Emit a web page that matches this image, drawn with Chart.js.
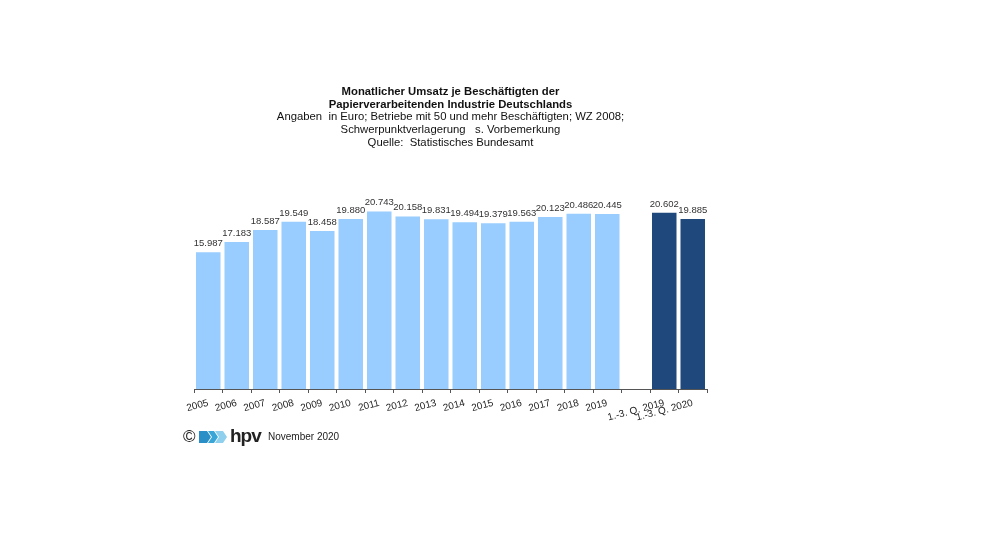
<!DOCTYPE html>
<html>
<head>
<meta charset="utf-8">
<script src="https://cdn.jsdelivr.net/npm/chart.js@4"></script>
<style>
  html, body { margin: 0; padding: 0; background: #fff; }
  #wrap { position: relative; width: 982px; height: 552px; }
  #footer { position: absolute; left: 183px; top: 427px; height: 20px; font-family: "Liberation Sans", Arial, sans-serif; color: #222; }
  #footer .copy { position: absolute; left: 0; top: 0; font-size: 17px; line-height: 20px; }
  #footer svg { position: absolute; left: 16px; top: 4px; }
  #footer .hpv { position: absolute; left: 47px; top: -1px; font-size: 19px; font-weight: bold; letter-spacing: -1px; line-height: 20px; }
  #footer .date { position: absolute; left: 85px; top: 4px; font-size: 10px; white-space: nowrap; line-height: 12px; }
</style>
</head>
<body>
<div id="wrap">
  <canvas id="umsatzChart" width="982" height="552"></canvas>
  <div id="footer">
    <span class="copy">©</span>
    <svg width="28" height="12" viewBox="0 0 28 12">
      <polygon points="0,0 8,0 12,6 8,12 0,12" fill="#2a8fc7"/>
      <polygon points="9,0 15,0 19,6 15,12 9,12 13,6" fill="#3aa6d8"/>
      <polygon points="16,0 24,0 28,6 24,12 16,12 20,6" fill="#8fd0ee"/>
    </svg>
    <span class="hpv">hpv</span>
    <span class="date">November 2020</span>
  </div>
</div>
<script>
// Werte (Euro je Beschäftigten und Monat)
const categories = ['2005', '2006', '2007', '2008', '2009', '2010', '2011', '2012', '2013', '2014',
                    '2015', '2016', '2017', '2018', '2019', '', '1.-3. Q. 2019', '1.-3. Q. 2020'];
const yearValues = [15987, 17183, 18587, 19549, 18458, 19880, 20743, 20158, 19831, 19494,
                    19379, 19563, 20123, 20486, 20445];
const quarterValues = [20602, 19885];

const titleLines = ['Monatlicher Umsatz je Beschäftigten der', 'Papierverarbeitenden Industrie Deutschlands'];
const subtitleLines = ['Angaben  in Euro; Betriebe mit 50 und mehr Beschäftigten; WZ 2008;',
                       'Schwerpunktverlagerung   s. Vorbemerkung',
                       'Quelle:  Statistisches Bundesamt'];

const lightBlue = '#99ccff';
const darkBlue = '#1f497d';

// eine Reihe: Jahre, Lücke, Quartale
const values = yearValues.concat([null], quarterValues);
const colors = values.map((v, i) => i > yearValues.length ? darkBlue : lightBlue);

function formatDe(n) {
    return String(n).replace(/\B(?=(\d{3})+(?!\d))/g, '.');
}

// Werte über die Säulen schreiben
const valueLabels = {
    id: 'valueLabels',
    afterDatasetsDraw(chart) {
        const ctx = chart.ctx;
        const meta = chart.getDatasetMeta(0);
        ctx.save();
        ctx.font = '9.5px "Liberation Sans", Arial, sans-serif';
        ctx.fillStyle = '#333';
        ctx.textAlign = 'center';
        ctx.textBaseline = 'bottom';
        meta.data.forEach((bar, i) => {
            const v = values[i];
            if (v === null) return;
            ctx.fillText(formatDe(v), bar.x, bar.y - 4);
        });
        ctx.restore();
    }
};

Chart.defaults.font.family = '"Liberation Sans", Arial, sans-serif';
Chart.defaults.color = '#222';

const ctx = document.getElementById('umsatzChart').getContext('2d');
new Chart(ctx, {
    type: 'bar',
    data: {
        labels: categories,
        datasets: [{
            data: values,
            backgroundColor: colors,
            borderWidth: 0,
            barPercentage: 0.86,
            categoryPercentage: 1.0
        }]
    },
    options: {
        responsive: false,
        animation: false,
        layout: {
            padding: { top: 86, left: 194, right: 275, bottom: 130 }
        },
        scales: {
            x: {
                grid: {
                    offset: true,
                    drawOnChartArea: false,
                    drawTicks: true,
                    tickLength: 4,
                    color: '#555'
                },
                border: { display: true, color: '#555', width: 1 },
                ticks: {
                    autoSkip: false,
                    minRotation: 15,
                    maxRotation: 15,
                    padding: 4,
                    color: '#222',
                    font: { size: 10 }
                },
                afterFit: function(scale) { scale.height = 33; }
            },
            y: {
                display: false,
                min: 0,
                max: 24000
            }
        },
        plugins: {
            legend: { display: false },
            tooltip: { enabled: false },
            title: {
                display: true,
                text: titleLines,
                color: '#111',
                font: { size: 11.3, weight: 'bold', lineHeight: 1.11 },
                padding: { top: 0, bottom: 0 }
            },
            subtitle: {
                display: true,
                text: subtitleLines,
                color: '#111',
                font: { size: 11.3, lineHeight: 1.11 },
                padding: { top: 0, bottom: 35 }
            }
        }
    },
    plugins: [valueLabels]
});
</script>
</body>
</html>
